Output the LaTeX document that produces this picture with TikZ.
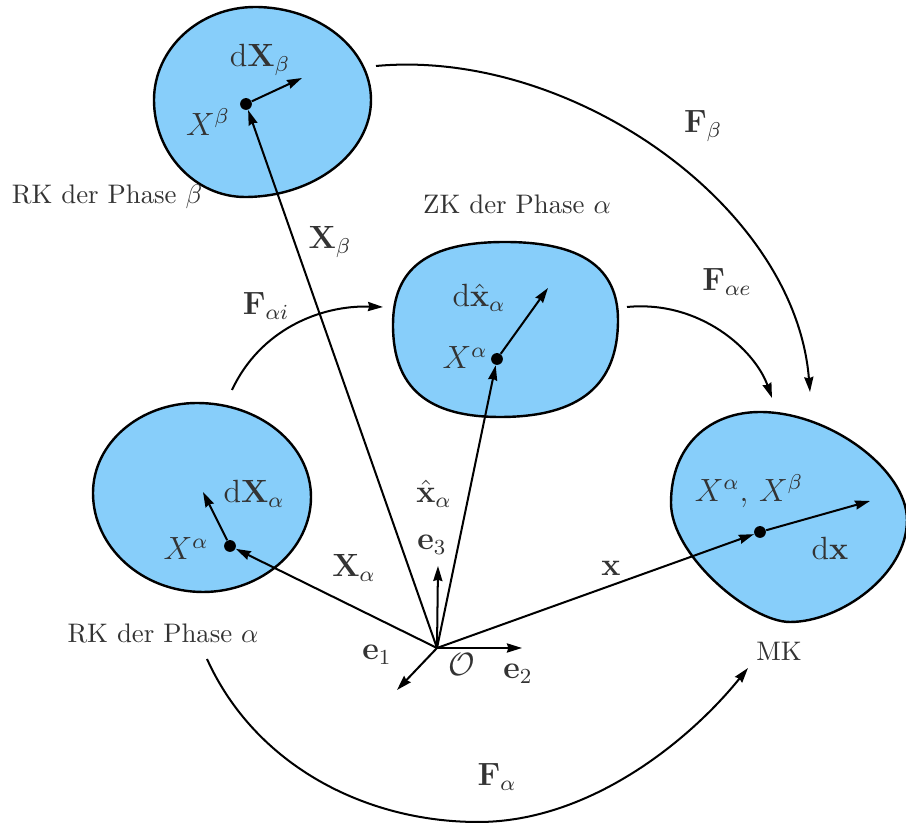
\documentclass[tikz,border=0pt]{standalone}
\usetikzlibrary{arrows.meta}
\definecolor{blobblue}{RGB}{135,206,250}
\definecolor{txt}{RGB}{51,51,51}
\begin{document}
\begin{tikzpicture}[x=0.373pt,y=-0.373pt,
  vec/.style={line width=0.75pt,-{Stealth[length=5.6pt,width=3.4pt,inset=0.5pt]}},
  arc/.style={line width=0.75pt,-{Stealth[length=5.6pt,width=3.4pt,inset=0.5pt]}},
  blob/.style={fill=blobblue,draw=black,line width=0.9pt},
  dot/.style={circle,fill=black,inner sep=0pt,minimum size=4.4pt},
  lab/.style={text=txt,font=\large},
  phaselab/.style={text=txt}]
\useasboundingbox (0,0) rectangle (906,823);

% blobs
% RK beta
\draw[blob] (154,100) .. controls (154,49) and (199,7) .. (255,7)
  .. controls (319,7) and (371,49) .. (371,100)
  .. controls (371,153) and (314,197) .. (245,197)
  .. controls (195,197) and (154,153) .. (154,100) -- cycle;
% ZK alpha
\draw[blob] (393,325) .. controls (393,268) and (428,242) .. (505,242)
  .. controls (582,242) and (618,268) .. (618,320)
  .. controls (618,385) and (580,417) .. (500,417)
  .. controls (428,417) and (393,388) .. (393,325) -- cycle;
% RK alpha
\draw[blob] (93,493) .. controls (93,443) and (140,403) .. (197,403)
  .. controls (260,403) and (311,445) .. (311,497)
  .. controls (311,549) and (262,592) .. (203,592)
  .. controls (142,592) and (93,547) .. (93,493) -- cycle;
% MK
\draw[blob] (760,412) .. controls (830,412) and (907,470) .. (907,520)
  .. controls (907,575) and (840,622) .. (790,622)
  .. controls (750,622) and (671,555) .. (671,503)
  .. controls (671,445) and (710,412) .. (760,412) -- cycle;

% points
\node[dot] (dB) at (246,104) {};
\node[dot] (dZ) at (497,359) {};
\node[dot] (dA) at (230,546) {};
\node[dot] (dM) at (760,532) {};
\coordinate (O) at (437,648);
\coordinate (e1) at (397,690);
\coordinate (e2) at (522,648);
\coordinate (e3) at (438,566);
\coordinate (tB) at (302,78);
\coordinate (tZ) at (548,288);
\coordinate (tA) at (203,492);
\coordinate (tM) at (870,501);

% position vectors
\draw[vec] (O) -- (dA);
\draw[vec] (O) -- (dB);
\draw[vec] (O) -- (dZ);
\draw[vec] (O) -- (dM);
\draw[vec] (O) -- (e1);
\draw[vec] (O) -- (e2);
\draw[vec] (O) -- (e3);
% line elements
\draw[vec] (dB) -- (tB);
\draw[vec] (dZ) -- (tZ);
\draw[vec] (dA) -- (tA);
\draw[vec] (dM) -- (tM);

% maps
\coordinate (fbS) at (376,66);   \coordinate (fbE) at (810,392);
\coordinate (feS) at (627,307);  \coordinate (feE) at (772,398);
\coordinate (fiS) at (232,390);  \coordinate (fiE) at (383,307);
\coordinate (faS) at (207,659);  \coordinate (faM) at (478,822); \coordinate (faE) at (748,668);
\draw[arc] (fbS) .. controls (570,48) and (795,205) .. (fbE);
\draw[arc] (feS) .. controls (700,300) and (755,350) .. (feE);
\draw[arc] (fiS) .. controls (260,330) and (320,305) .. (fiE);
\draw[line width=0.75pt] (faS) .. controls (255,765) and (365,822) .. (faM);
\draw[arc] (faM) .. controls (590,822) and (690,740) .. (faE);

% labels
\node[lab] (ldB) at (260,60) {$\mathrm{d}\mathbf{X}_\beta$};
\node[lab] (lXB) at (208,122) {$X^\beta$};
\node[phaselab] (rkb) at (107,197) {RK der Phase $\beta$};
\node[lab] (lXb) at (330,242) {$\mathbf{X}_\beta$};
\node[phaselab] (zka) at (517,204) {ZK der Phase $\alpha$};
\node[lab] (ldZ) at (479,298) {$\mathrm{d}\hat{\mathbf{x}}_\alpha$};
\node[lab] (lXZ) at (465,358) {$X^\alpha$};
\node[lab] (lFi) at (266,306) {$\mathbf{F}_{\alpha i}$};
\node[lab] (lFb) at (703,126) {$\mathbf{F}_\beta$};
\node[lab] (lFe) at (727,282) {$\mathbf{F}_{\alpha e}$};
\node[lab] (ldA) at (254,494) {$\mathrm{d}\mathbf{X}_\alpha$};
\node[lab] (lXA) at (186,549) {$X^\alpha$};
\node[phaselab] (rka) at (163,633) {RK der Phase $\alpha$};
\node[lab] (lXa) at (354,568) {$\mathbf{X}_\alpha$};
\node[lab] (lxh) at (434,494) {$\hat{\mathbf{x}}_\alpha$};
\node[lab] (le3) at (432,545) {$\mathbf{e}_3$};
\node[lab] (le1) at (377,655) {$\mathbf{e}_1$};
\node[lab] (lO) at (462,665) {$\mathcal{O}$};
\node[lab] (le2) at (518,674) {$\mathbf{e}_2$};
\node[lab] (lx) at (611,568) {$\mathbf{x}$};
\node[lab] (lXM) at (749,491) {$X^\alpha,\,X^\beta$};
\node[lab] (ldM) at (830,548) {$\mathrm{d}\mathbf{x}$};
\node[phaselab] (mk) at (779,651) {MK};
\node[lab] (lFa) at (497,777) {$\mathbf{F}_\alpha$};
\end{tikzpicture}
\end{document}
